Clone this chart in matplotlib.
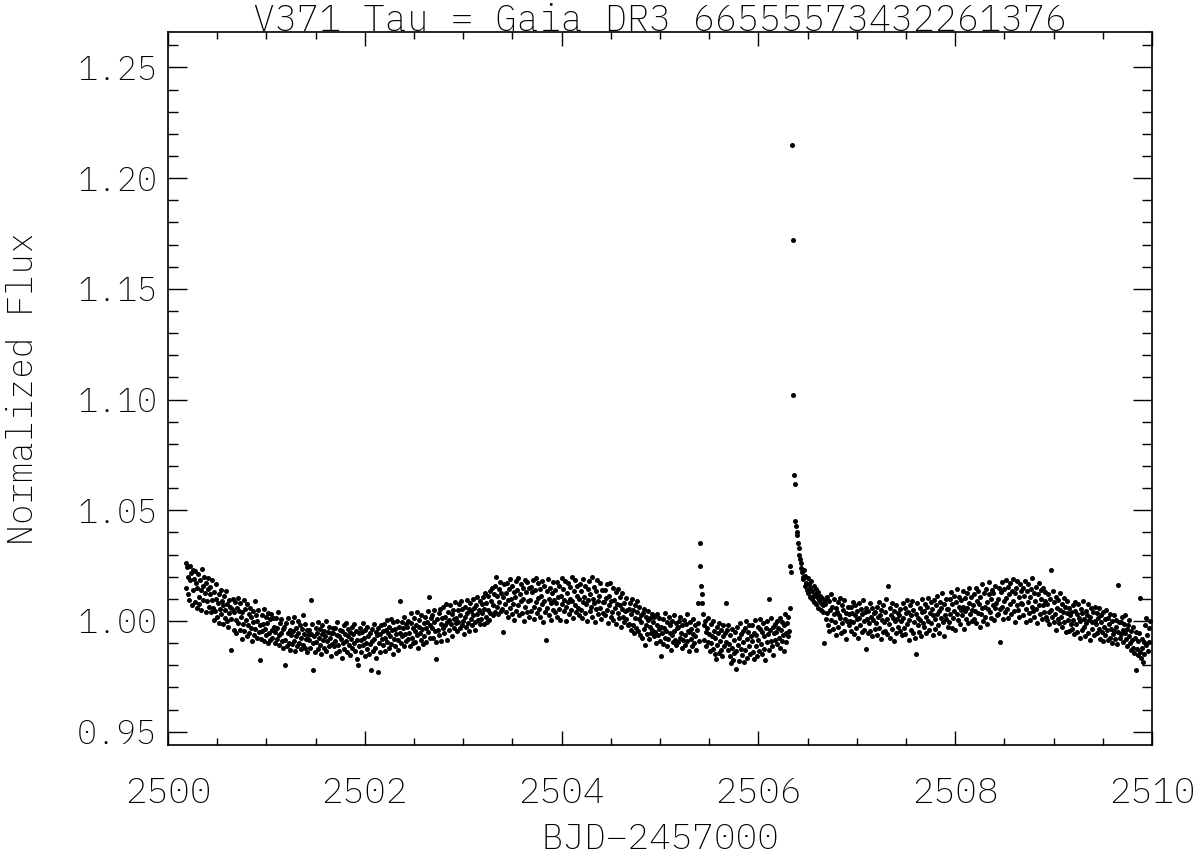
"""
V371 Tau light curve, normalized flux around a flare
"""

import numpy as np
import matplotlib
matplotlib.use("Agg")
import matplotlib.pyplot as plt
from matplotlib.ticker import MultipleLocator, FormatStrFormatter

plt.rcParams.update({
    'font.family': ['IBM Plex Mono', 'DejaVu Sans Mono'],
    'font.weight': 200,
    'axes.labelweight': 200,
    'font.size': 26,
})

TITLE = 'V371 Tau = Gaia DR3 66555573432261376'
XLABEL = 'BJD\u22122457000'
YLABEL = 'Normalized Flux'

# sampling of the light curve (10 min cadence)
t_start = 2500.18
cadence = 1.0 / 144.0

# flux deviation from 1.0, in units of 1e-4, one row = 0.25 d
dflux_rows = [
    [260, 150, 245, 200, 120, 95, 250, 185, 215, 70, 230, 140, 190, 85, 225, 170, 60, 150, 210, 110, 75, 185, 140, 50, 235, 160, 95, 200, 125, 40, 170, 90, 145, 195, 65, 120],
    [155, 40, 95, 185, 60, 5, 130, 45, 100, 165, 20, 80, -10, 120, 55, 140, 30, 90, -15, 70, 115, 15, 50, 135, 0, 75, -25, 95, 35, 65, -130, 10, 55, 100, -40, 40],
    [85, 5, -55, 60, 105, -10, 45, -40, 80, 20, -80, 40, -15, 95, -45, 55, 5, -70, 75, -20, 30, -55, 60, -30, 20, -90, 45, -5, -65, 90, -35, 25, -75, 0, 50, -50],
    [-20, -175, -80, 25, -45, -15, 55, -90, -35, 20, -65, -10, 35, -100, -55, 10, -85, 30, -40, -75, 15, -25, -100, -50, 15, -80, -30, 40, -65, -110, -10, -55, 10, -90, -35, -120],
    [-25, -200, -85, -10, -115, -55, 15, -100, -40, -130, -65, -5, -105, -45, 20, -90, -135, -30, -70, -115, 0, -55, -100, -20, -125, -75, -35, 25, -110, -60, -15, -120, -80, -40, -140, -65],
    [-85, -40, -120, 95, -60, -15, -220, -100, -70, -140, -30, -95, -55, -5, -125, -75, -35, -110, -150, -60, -20, -85, -120, -45, -70, 0, -135, -90, -50, -115, -25, -75, -160, -55, -105, -30],
    [-55, -115, -30, -90, -145, -65, -5, -110, -70, -135, -40, -80, -165, -45, -100, -20, -125, -60, -90, -10, -140, -70, -35, -110, -50, -155, -80, -25, -120, -60, -15, -100, -135, -45, -85, -170],
    [-200, -55, -115, -30, -85, -140, -50, -110, -10, -75, -160, -40, -100, -125, -25, -70, -150, -55, -105, -220, -35, -90, -135, -15, -80, -120, -50, -165, -65, -230, -30, -100, -60, -140, -20, -80],
    [-45, -110, -15, -75, -135, -40, 5, -95, -55, -120, -25, -70, 10, -105, -40, -150, -5, -80, -35, -115, -60, 0, -85, -130, -25, -55, 90, -100, -5, -70, -30, -115, 20, -60, -15, -90],
    [-25, -80, 0, -55, -115, -10, 35, -75, -30, -100, 15, -45, -95, -20, 40, -65, -120, -25, 5, -55, -85, 25, -35, -105, -10, -70, 20, -30, -95, -5, -50, 45, 110, -75, -20, 15],
    [-30, 25, -75, -5, 50, -45, -95, -170, 10, -40, 35, -65, 55, -15, -90, 15, -30, 65, -55, 20, -20, 75, -5, -85, 40, 5, -40, 70, -15, 30, -70, 50, 10, -30, 85, -10],
    [15, -45, 50, -5, 75, -30, 25, 90, -20, 55, 0, -60, 65, 20, -25, 95, 35, -10, 55, -45, 80, 10, 45, -20, 100, 25, 60, -5, -40, 70, 30, 110, 5, 50, 90, -15],
    [10, 75, 35, 110, -15, 55, 125, 20, 80, -5, 115, 50, 5, 135, 35, 90, 150, 25, 70, 120, 40, 160, 200, 65, 115, 30, 145, 85, 175, 45, 125, 55, -50, 110, 165, 75],
    [125, 40, 170, 95, 20, 145, 60, 190, 100, 30, 160, 75, 130, 5, 110, 180, 45, 140, 70, 195, 25, 120, 165, 90, 35, 150, 100, 0, 185, 65, 130, 40, 175, 90, 150, 20],
    [95, 155, 45, 130, 185, 65, 10, 140, 85, 195, 35, 105, 170, 55, 145, 20, 115, 180, 75, -5, 160, 90, 40, -85, 135, 60, 190, 100, 25, 150, 80, 5, 125, 50, 175, 95],
    [40, 140, 80, 175, 20, 110, 55, 160, 5, 115, 195, 75, 145, 45, 95, 180, 65, 0, 125, 85, 170, 30, 100, 155, 50, 200, 90, 15, 135, 70, 185, 40, 115, 160, 60, 25],
    [100, 165, 50, 135, 15, 85, 190, 110, 35, 160, 75, 0, 145, 95, 180, 45, 120, 65, 200, 20, 100, 155, 80, -5, 135, 55, 185, 90, 30, 115, 170, 60, 10, 140, 85, 35],
    [85, 140, 25, 105, 165, 50, -10, 115, 70, 170, 20, 90, 40, 150, 5, 95, 60, 130, -15, 75, 35, 145, 15, 70, 110, -25, 55, 125, 20, 80, -5, 45, 105, 10, 50, -20],
    [55, -15, 80, -40, 30, 100, -20, 50, -55, 70, 15, -30, 40, 90, -45, 10, 65, -65, 25, -5, -75, 35, -35, 55, -110, -20, 20, -60, 5, 45, -80, -25, 15, -55, 30, -40],
    [-5, -70, 20, -50, -100, -20, 30, -65, -35, 15, -90, -25, -157, -55, 10, -105, -30, -75, 35, -45, -115, -5, -80, 20, -55, -20, -130, 0, -65, -95, 25, -45, -85, -10, -110, -30],
    [-25, -95, 0, -75, 20, -55, -120, -20, -85, 5, -65, -110, -15, -90, 30, -45, -135, -50, -5, -80, -35, -115, 10, -60, -100, -20, -70, -130, -40, 80, -10, -90, 350, 250, 160, 120],
    [80, 30, -20, -85, 0, -50, -115, -30, -95, 15, -60, -135, -15, -100, -70, 0, -125, -45, -150, -75, -170, -25, -110, -55, -145, -10, -90, -130, -40, -160, -70, -20, -115, -55, 80, -95],
    [-40, -130, -20, -105, -160, -65, -190, -120, -35, -175, -85, -145, -50, -216, -135, -25, -110, -75, -180, -10, -125, -60, -155, -45, -95, -185, -30, -130, 0, -80, -165, -50, -115, -20, -150, -70],
    [-90, -20, -140, -170, -55, 5, -115, -65, -160, -25, -85, -135, -35, 10, -105, -150, -50, -10, -125, -70, -175, -30, -95, 0, -60, -130, 100, -40, -90, 15, -115, -25, -155, -55, -15, -85],
    [-50, 0, -105, -30, -75, 15, -120, -40, -90, -5, -65, -135, -20, 30, -55, -95, -10, -70, 20, -45, 60, 250, 220, 2150, 1720, 1020, 660, 620, 450, 430, 400, 390, 350, 330, 300, 280],
    [240, 260, 220, 190, 200, 230, 160, 205, 170, 140, 195, 125, 165, 110, 150, 180, 100, 135, 115, 160, 85, 120, 145, 75, 110, 130, 60, 95, 115, 50, 80, 105, 40, 70, -100, 90],
    [75, 10, 110, 35, -20, 90, -45, 50, 120, 5, 65, -35, 30, 100, -5, 60, -65, 40, 85, -25, 25, 105, 15, -55, 70, -10, 50, -45, 95, 10, 35, -80, 0, 65, -20, 30],
    [0, 65, -45, 35, 85, -5, -60, 25, 70, -30, 45, 10, -75, 80, 15, -20, 55, -50, 30, 95, 0, -40, 40, 60, -125, 10, -55, 45, -10, 80, -45, 20, 60, -70, 5, 35],
    [-35, 40, -10, 65, -65, 20, 85, -30, 25, -80, 50, 5, -50, 70, -5, -45, 40, 100, -60, 10, 160, -15, 60, -75, 25, 80, -35, 15, -90, 45, 0, -55, 70, 10, -25, 35],
    [25, -45, 55, 0, -65, 80, 15, -30, 60, -60, 35, 95, -15, 40, -85, 5, 70, -40, 25, 90, -55, 50, -5, -75, -150, 30, 80, -20, 15, -50, 60, 5, -70, 40, 100, -10],
    [45, -25, 75, 20, -55, 65, 0, 105, -40, 35, 85, -10, 55, -65, 25, 95, 10, -35, 70, 30, 115, -20, 45, -55, 85, 15, 60, 125, -5, 75, -70, 25, 100, 10, 55, -25],
    [55, -5, 100, 30, 130, -30, 75, 15, 115, 45, -40, 85, 30, 145, 5, 65, 110, -15, 50, 95, 25, 135, 65, -35, 45, 105, 10, 125, 60, -10, 80, 150, 30, 110, 50, 0],
    [70, 10, 120, 45, 150, -10, 90, 35, 135, 75, -25, 110, 30, 165, 60, 0, 125, 65, 20, 145, 85, -15, 55, 120, 175, 40, 100, 15, 140, 70, 125, 5, 60, 160, 80, 25],
    [100, 30, 150, 55, -95, 130, 65, 175, 10, 90, 145, 40, 185, 105, 55, 155, 15, 120, 75, 170, 30, 135, 90, 190, 45, 125, -5, 150, 70, 180, 50, 110, 20, 165, 80, 135],
    [75, 150, 25, 115, 180, 55, -5, 135, 85, 165, 35, 110, 5, 145, 65, 195, 45, 125, 20, 90, 155, 55, -10, 120, 70, 170, 30, 100, 140, 10, 70, 150, 40, 90, 130, 20],
    [75, 5, 120, 40, -15, 100, 50, 230, 20, 135, -5, 85, 30, -40, 110, 60, 10, 95, -10, 50, 125, 20, 75, -25, 40, 105, -5, 65, -50, 35, 90, 5, 60, -45, 25, -15],
    [40, -35, 70, 5, -60, 45, 85, -15, 30, -50, 75, 15, -75, 0, 55, -40, 35, 90, -25, 10, -70, 45, -10, 25, -55, 75, 5, -85, 20, 60, -35, -5, 40, -65, 0, 65],
    [-15, 35, -55, 15, -35, 60, -80, -5, 25, -50, 40, -90, -25, 10, -65, 50, -40, -85, 15, -15, -75, 30, -35, -100, 0, -60, 25, -45, -80, 5, -25, -105, 164, -50, -5, -75],
    [-5, -60, 20, -40, -95, -15, -55, 25, -80, -35, -115, -20, -70, 5, -100, -130, -45, -85, -25, -120, -145, -75, -220, -50, -125, -155, -90, -55, -140, 105, -165, -80, -120, -185, -95, -150],
    [-20, -110, 15, -65, -135, -30, -95, 0],
]

dflux = np.concatenate([np.array(r, dtype=float) for r in dflux_rows])
flux = 1.0 + dflux * 1e-4
time = t_start + cadence * np.arange(len(flux))

fig = plt.figure(figsize=(12, 8.57), dpi=100)
ax = fig.add_axes([0.14, 0.1307, 0.82, 0.832])

ax.scatter(time, flux, s=13, c='black', linewidths=0)

ax.set_xlim(2500, 2510)
ax.set_ylim(0.944, 1.266)

ax.xaxis.set_major_locator(MultipleLocator(2))
ax.xaxis.set_minor_locator(MultipleLocator(0.5))
ax.yaxis.set_major_locator(MultipleLocator(0.05))
ax.yaxis.set_minor_locator(MultipleLocator(0.01))
ax.yaxis.set_major_formatter(FormatStrFormatter('%.2f'))

ax.tick_params(axis='x', which='major', direction='in', length=10, width=1,
               top=True, bottom=True, pad=22, labelsize=26)
ax.tick_params(axis='x', which='minor', direction='in', length=5, width=1,
               top=True, bottom=True)
ax.tick_params(axis='y', which='major', direction='in', length=14, width=1,
               left=True, right=True, pad=8, labelsize=24)
ax.tick_params(axis='y', which='minor', direction='in', length=7, width=1,
               left=True, right=True)
for sp in ax.spines.values():
    sp.set_linewidth(1.2)

ax.text(0.5, 1.001, TITLE, transform=ax.transAxes, ha='center', va='baseline',
        fontsize=26.5)
ax.set_xlabel(XLABEL, fontsize=26, fontweight=200)
ax.set_ylabel(YLABEL, fontsize=25, fontweight=200)
ax.xaxis.set_label_coords(0.5, -0.108)
ax.yaxis.set_label_coords(-0.130, 0.5)

fig.savefig('out.png', dpi=100)
